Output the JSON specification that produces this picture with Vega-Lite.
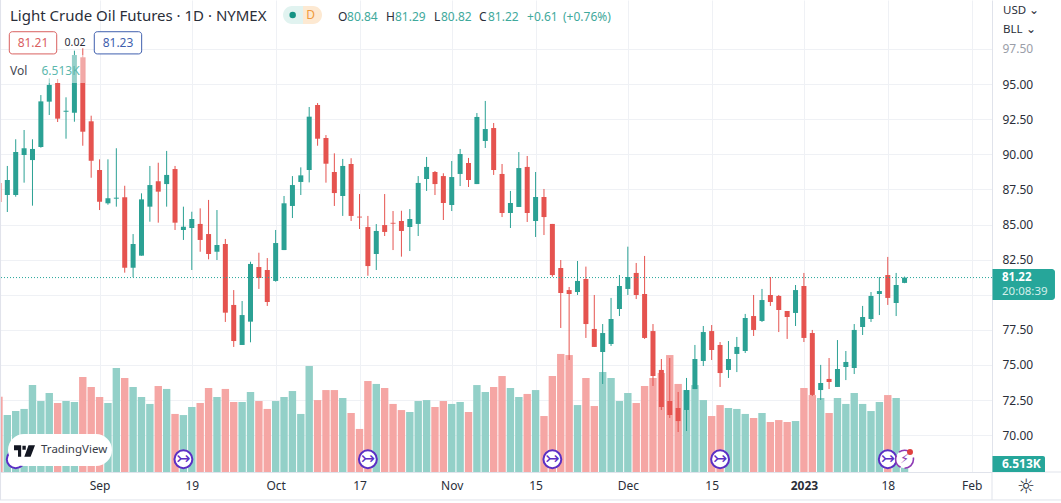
{
  "$schema": "https://vega.github.io/schema/vega-lite/v6.json",
  "width": 992,
  "height": 472,
  "autosize": "none",
  "padding": {"left": 0, "top": 0, "right": 69, "bottom": 31},
  "background": "#ffffff",
  "title": {"text": "Light Crude Oil Futures · 1D · NYMEX", "anchor": "start", "frame": "group", "offset": -24, "dx": 10, "fontSize": 15, "fontWeight": "normal", "color": "#2a2e39"},
  "config": {"font": "Noto Sans", "view": {"stroke": null}},
  "datasets": {
    "bars": [
      {"i":-1,"o":87.96,"h":87.96,"l":86.60,"c":86.60,"v":54.2},
      {"i":0,"o":87.10,"h":89.17,"l":85.89,"c":88.17,"v":41.0},
      {"i":1,"o":87.10,"h":91.07,"l":86.98,"c":90.16,"v":43.9},
      {"i":2,"o":89.95,"h":91.73,"l":87.98,"c":90.43,"v":45.4},
      {"i":3,"o":89.59,"h":91.07,"l":86.34,"c":90.38,"v":62.6},
      {"i":4,"o":90.52,"h":94.22,"l":90.47,"c":93.77,"v":51.1},
      {"i":5,"o":93.75,"h":95.41,"l":92.80,"c":94.94,"v":56.9},
      {"i":6,"o":95.08,"h":95.36,"l":92.30,"c":92.54,"v":49.7},
      {"i":7,"o":93.03,"h":94.06,"l":91.11,"c":93.10,"v":51.1},
      {"i":8,"o":92.96,"h":97.38,"l":92.32,"c":97.07,"v":50.4},
      {"i":9,"o":96.91,"h":97.55,"l":90.61,"c":91.61,"v":68.4},
      {"i":10,"o":92.35,"h":92.75,"l":88.33,"c":89.54,"v":61.2},
      {"i":11,"o":88.88,"h":89.64,"l":86.03,"c":86.62,"v":54.0},
      {"i":12,"o":86.51,"h":89.64,"l":86.41,"c":86.87,"v":49.7},
      {"i":13,"o":86.84,"h":90.43,"l":86.27,"c":86.91,"v":74.9},
      {"i":14,"o":86.94,"h":87.76,"l":81.57,"c":81.92,"v":67.7},
      {"i":15,"o":81.92,"h":84.32,"l":81.24,"c":83.61,"v":61.2},
      {"i":16,"o":82.78,"h":87.22,"l":82.78,"c":86.79,"v":54.0},
      {"i":17,"o":86.27,"h":89.17,"l":85.20,"c":87.81,"v":49.0},
      {"i":18,"o":88.08,"h":89.40,"l":85.13,"c":87.34,"v":61.9},
      {"i":19,"o":87.88,"h":90.24,"l":86.27,"c":88.53,"v":59.8},
      {"i":20,"o":88.95,"h":89.17,"l":84.61,"c":85.13,"v":41.8},
      {"i":21,"o":84.61,"h":86.27,"l":83.90,"c":84.84,"v":41.0},
      {"i":22,"o":84.75,"h":85.91,"l":81.76,"c":85.39,"v":46.8},
      {"i":23,"o":85.04,"h":86.15,"l":83.06,"c":83.90,"v":49.7},
      {"i":24,"o":84.32,"h":86.75,"l":82.52,"c":82.90,"v":60.5},
      {"i":25,"o":83.06,"h":86.03,"l":82.47,"c":83.54,"v":54.0},
      {"i":26,"o":83.61,"h":83.97,"l":78.06,"c":78.72,"v":59.8},
      {"i":27,"o":79.27,"h":80.33,"l":76.28,"c":76.70,"v":50.4},
      {"i":28,"o":76.42,"h":79.55,"l":76.42,"c":78.55,"v":50.4},
      {"i":29,"o":78.08,"h":82.35,"l":76.61,"c":82.19,"v":57.6},
      {"i":30,"o":81.97,"h":82.99,"l":80.41,"c":81.19,"v":51.1},
      {"i":31,"o":81.76,"h":82.61,"l":79.20,"c":79.48,"v":45.4},
      {"i":32,"o":80.98,"h":84.61,"l":80.93,"c":83.68,"v":51.1},
      {"i":33,"o":83.18,"h":87.03,"l":83.18,"c":86.51,"v":54.0},
      {"i":34,"o":86.32,"h":88.45,"l":85.46,"c":87.81,"v":58.3},
      {"i":35,"o":88.03,"h":89.07,"l":87.10,"c":88.50,"v":41.8},
      {"i":36,"o":88.88,"h":93.37,"l":88.00,"c":92.68,"v":76.3},
      {"i":37,"o":93.51,"h":93.65,"l":90.61,"c":91.11,"v":51.8},
      {"i":38,"o":91.16,"h":91.37,"l":87.98,"c":89.33,"v":59.0},
      {"i":39,"o":88.74,"h":90.07,"l":86.32,"c":87.24,"v":59.0},
      {"i":40,"o":87.03,"h":89.67,"l":85.61,"c":89.17,"v":53.3},
      {"i":41,"o":89.31,"h":89.72,"l":85.25,"c":85.61,"v":42.5},
      {"i":42,"o":85.56,"h":87.17,"l":84.68,"c":85.50,"v":31.0},
      {"i":43,"o":84.82,"h":85.61,"l":81.35,"c":82.04,"v":65.5},
      {"i":44,"o":82.90,"h":85.03,"l":81.76,"c":84.54,"v":63.4},
      {"i":45,"o":84.96,"h":87.17,"l":84.18,"c":84.47,"v":60.5},
      {"i":46,"o":85.12,"h":85.96,"l":83.18,"c":85.06,"v":49.0},
      {"i":47,"o":85.25,"h":85.98,"l":82.71,"c":84.54,"v":44.6},
      {"i":48,"o":84.82,"h":86.10,"l":83.11,"c":85.39,"v":43.2},
      {"i":49,"o":85.04,"h":88.45,"l":84.18,"c":87.96,"v":51.1},
      {"i":50,"o":88.24,"h":89.81,"l":87.39,"c":89.10,"v":51.8},
      {"i":51,"o":88.74,"h":88.81,"l":87.10,"c":87.88,"v":46.8},
      {"i":52,"o":88.45,"h":88.65,"l":85.32,"c":86.53,"v":51.1},
      {"i":53,"o":86.39,"h":89.52,"l":85.96,"c":88.38,"v":49.0},
      {"i":54,"o":88.60,"h":90.38,"l":87.74,"c":90.02,"v":50.4},
      {"i":55,"o":89.38,"h":89.74,"l":87.67,"c":88.17,"v":43.2},
      {"i":56,"o":87.88,"h":92.94,"l":87.88,"c":92.66,"v":62.6},
      {"i":57,"o":90.95,"h":93.80,"l":90.45,"c":91.80,"v":57.6},
      {"i":58,"o":91.87,"h":92.23,"l":88.53,"c":88.88,"v":61.2},
      {"i":59,"o":88.60,"h":89.31,"l":85.53,"c":85.82,"v":69.1},
      {"i":60,"o":85.82,"h":87.39,"l":84.75,"c":86.53,"v":60.5},
      {"i":61,"o":86.25,"h":90.16,"l":86.25,"c":89.02,"v":54.0},
      {"i":62,"o":89.10,"h":89.88,"l":85.18,"c":85.82,"v":56.2},
      {"i":63,"o":85.25,"h":88.74,"l":84.11,"c":86.96,"v":59.0},
      {"i":64,"o":86.96,"h":87.53,"l":84.25,"c":85.53,"v":40.3},
      {"i":65,"o":85.04,"h":85.04,"l":81.28,"c":81.40,"v":69.1},
      {"i":66,"o":81.90,"h":82.47,"l":77.63,"c":80.12,"v":85.0},
      {"i":67,"o":80.33,"h":80.55,"l":75.35,"c":80.05,"v":84.2},
      {"i":68,"o":80.19,"h":82.40,"l":79.98,"c":80.98,"v":48.2},
      {"i":69,"o":81.12,"h":82.00,"l":76.92,"c":77.91,"v":67.7},
      {"i":70,"o":77.56,"h":79.98,"l":76.28,"c":76.28,"v":47.5},
      {"i":71,"o":75.92,"h":77.91,"l":73.64,"c":77.27,"v":72.0},
      {"i":72,"o":76.49,"h":79.77,"l":76.35,"c":78.27,"v":67.7},
      {"i":73,"o":78.98,"h":81.40,"l":78.48,"c":80.62,"v":51.1},
      {"i":74,"o":80.41,"h":83.42,"l":79.98,"c":81.26,"v":56.9},
      {"i":75,"o":81.55,"h":82.26,"l":79.69,"c":79.98,"v":49.7},
      {"i":76,"o":80.05,"h":82.76,"l":76.85,"c":76.92,"v":61.9},
      {"i":77,"o":77.41,"h":77.91,"l":73.50,"c":74.21,"v":67.7},
      {"i":78,"o":74.64,"h":75.42,"l":71.79,"c":72.00,"v":71.3},
      {"i":79,"o":72.43,"h":75.49,"l":71.22,"c":71.43,"v":84.2},
      {"i":80,"o":71.93,"h":73.07,"l":70.22,"c":71.00,"v":63.4},
      {"i":81,"o":71.79,"h":74.07,"l":70.29,"c":73.21,"v":59.0},
      {"i":82,"o":73.28,"h":76.42,"l":73.28,"c":75.42,"v":62.6},
      {"i":83,"o":75.28,"h":77.77,"l":74.92,"c":77.34,"v":51.8},
      {"i":84,"o":77.41,"h":77.84,"l":75.35,"c":76.06,"v":40.3},
      {"i":85,"o":76.42,"h":76.63,"l":73.43,"c":74.42,"v":48.2},
      {"i":86,"o":74.64,"h":76.70,"l":74.07,"c":75.42,"v":46.1},
      {"i":87,"o":75.78,"h":76.99,"l":74.49,"c":76.28,"v":45.4},
      {"i":88,"o":75.99,"h":78.63,"l":75.85,"c":78.34,"v":41.8},
      {"i":89,"o":78.48,"h":79.98,"l":77.06,"c":77.49,"v":38.9},
      {"i":90,"o":78.13,"h":80.41,"l":78.06,"c":79.62,"v":42.5},
      {"i":91,"o":79.98,"h":81.26,"l":79.20,"c":79.48,"v":36.0},
      {"i":92,"o":79.91,"h":79.98,"l":77.34,"c":78.91,"v":37.4},
      {"i":93,"o":78.84,"h":78.84,"l":76.85,"c":78.41,"v":36.0},
      {"i":94,"o":78.70,"h":80.69,"l":77.77,"c":80.33,"v":36.7},
      {"i":95,"o":80.62,"h":81.55,"l":76.63,"c":76.92,"v":60.5},
      {"i":96,"o":77.27,"h":77.49,"l":72.78,"c":72.86,"v":55.4},
      {"i":97,"o":73.21,"h":75.00,"l":72.50,"c":73.71,"v":53.3},
      {"i":98,"o":74.00,"h":75.49,"l":73.28,"c":73.78,"v":42.5},
      {"i":99,"o":73.43,"h":76.77,"l":73.43,"c":74.71,"v":53.3},
      {"i":100,"o":74.85,"h":75.99,"l":73.92,"c":75.21,"v":49.0},
      {"i":101,"o":74.78,"h":77.91,"l":74.35,"c":77.49,"v":56.9},
      {"i":102,"o":77.70,"h":79.20,"l":77.13,"c":78.41,"v":49.0},
      {"i":103,"o":78.27,"h":80.19,"l":78.06,"c":79.91,"v":43.9},
      {"i":104,"o":80.05,"h":81.26,"l":78.55,"c":80.26,"v":50.4},
      {"i":105,"o":81.40,"h":82.69,"l":79.27,"c":79.77,"v":55.4},
      {"i":106,"o":79.41,"h":81.55,"l":78.48,"c":80.69,"v":53.3},
      {"i":107,"o":80.84,"h":81.29,"l":80.82,"c":81.22,"v":6.513}
    ]
  },
  "resolve": {"scale": {"y": "independent"}},
  "layer": [
    {
      "data": {"name": "bars"},
      "mark": {"type": "bar", "orient": "vertical", "size": 7.4},
      "encoding": {
        "x": {
          "field": "i", "type": "quantitative",
          "scale": {"domain": [-0.874, 117.43], "nice": false, "zero": false, "padding": 0},
          "axis": {
            "title": null,
            "values": [11, 22, 32, 42, 53, 63, 74, 84, 95, 105, 115],
            "labelExpr": "{'11':'Sep','22':'19','32':'Oct','42':'17','53':'Nov','63':'15','74':'Dec','84':'15','95':'2023','105':'18','115':'Feb'}[datum.value]",
            "labelFontSize": 12,
            "labelColor": "#2a2e39",
            "labelPadding": 8,
            "labelFontWeight": {"condition": {"test": "datum.value === 95", "value": "bold"}, "value": "normal"},
            "ticks": false,
            "domainColor": "#e0e3eb",
            "grid": true,
            "gridColor": "#eff1f5"
          }
        },
        "y": {"field": "v", "type": "quantitative", "scale": {"domain": [0, 339.84], "nice": false}, "axis": null},
        "color": {"condition": {"test": "datum.c >= datum.o", "value": "#93d0c8"}, "value": "#f5a6a4"}
      }
    },
    {
      "data": {"values": [{}]},
      "layer": [
        {
          "data": {"name": "bars"},
          "mark": {"type": "rule", "strokeWidth": 1},
          "encoding": {
            "x": {"field": "i", "type": "quantitative"},
            "y": {
              "field": "h", "type": "quantitative",
              "scale": {"domain": [67.372, 100.99], "nice": false, "zero": false},
              "axis": {
                "title": null,
                "orient": "right",
                "values": [70, 72.5, 75, 77.5, 80, 82.5, 85, 87.5, 90, 92.5, 95, 97.5],
                "labelExpr": "datum.value === 80 ? '' : format(datum.value, '.2f')",
                "labelFontSize": 12,
                "labelColor": {"condition": {"test": "datum.value === 97.5", "value": "#9a9ea8"}, "value": "#2a2e39"},
                "labelPadding": 10,
                "ticks": false,
                "domainColor": "#e0e3eb",
                "grid": true,
                "gridColor": "#eff1f5"
              }
            },
            "y2": {"field": "l"},
            "color": {"condition": {"test": "datum.c >= datum.o", "value": "#2ba194"}, "value": "#e5534f"}
          }
        },
        {
          "data": {"name": "bars"},
          "mark": {"type": "bar", "orient": "vertical", "size": 5},
          "encoding": {
            "x": {"field": "i", "type": "quantitative"},
            "y": {"field": "o", "type": "quantitative"},
            "y2": {"field": "c"},
            "color": {"condition": {"test": "datum.c >= datum.o", "value": "#2ba194"}, "value": "#e5534f"}
          }
        },
        {
          "mark": {"type": "rule", "strokeDash": [1, 2], "stroke": "#26a69a", "strokeWidth": 1},
          "encoding": {"y": {"datum": 81.22}}
        },
        {
          "mark": {"type": "rect", "color": "#ffffff", "opacity": 0.5},
          "encoding": {"x": {"datum": -0.874}, "x2": {"datum": 9.26}, "y": {"datum": 97.07}, "y2": {"datum": 95.08}}
        },
        {
          "data": {"values": [{"i": 1}, {"i": 21}, {"i": 43}, {"i": 65}, {"i": 85}, {"i": 105}]},
          "mark": {"type": "point", "filled": true, "size": 320, "fill": "#ffffff", "stroke": "#5b2fc4", "strokeWidth": 2, "opacity": 1},
          "encoding": {"x": {"field": "i", "type": "quantitative"}, "y": {"datum": 68.28}}
        },
        {
          "data": {"values": [{"i": 21}, {"i": 43}, {"i": 65}, {"i": 85}, {"i": 105}]},
          "mark": {"type": "text", "text": "↣", "font": "DejaVu Sans", "fontSize": 17, "baseline": "middle", "color": "#5b2fc4"},
          "encoding": {"x": {"field": "i", "type": "quantitative"}, "y": {"datum": 68.28}}
        },
        {
          "mark": {"type": "point", "filled": true, "size": 320, "fill": "#ffffff", "stroke": "#8e3bb5", "strokeWidth": 1.6, "strokeDash": [14, 4], "opacity": 1},
          "encoding": {"x": {"datum": 107}, "y": {"datum": 68.28}}
        },
        {
          "mark": {"type": "text", "text": "⚡", "font": "DejaVu Sans", "fontSize": 13, "baseline": "middle", "color": "#8e3bb5"},
          "encoding": {"x": {"datum": 107}, "y": {"datum": 68.28}}
        },
        {
          "mark": {"type": "point", "filled": true, "size": 36, "color": "#e0403f", "opacity": 1},
          "encoding": {"x": {"datum": 107.65}, "y": {"datum": 68.8}}
        },
        {
          "mark": {"type": "rect", "color": "#ffffff", "cornerRadius": 16},
          "encoding": {"x": {"datum": 0.08}, "x2": {"datum": 12.48}, "y": {"datum": 70.08}, "y2": {"datum": 67.8}}
        },
        {
          "mark": {"type": "point", "filled": true, "size": 441, "color": "#131722", "opacity": 1, "shape": "M-1,-0.55 L-0.32,-0.55 L-0.32,0.55 L-0.62,0.55 L-0.62,-0.08 L-1,-0.08 Z M-0.2,-0.5 L0.12,-0.5 L0.12,-0.12 L-0.2,-0.12 Z M0.38,-0.55 L1,-0.55 L0.58,0.55 L-0.02,0.55 Z"},
          "encoding": {"x": {"datum": 2.05}, "y": {"datum": 68.87}}
        },
        {
          "mark": {"type": "text", "text": "TradingView", "align": "left", "baseline": "middle", "fontSize": 11.5, "color": "#3a3e49"},
          "encoding": {"x": {"datum": 4.02}, "y": {"datum": 68.94}}
        },
        {
          "mark": {"type": "rect", "fill": "#e1f3f0", "cornerRadiusTopLeft": 9, "cornerRadiusBottomLeft": 9},
          "encoding": {"x": {"datum": 32.88}, "x2": {"datum": 35.26}, "y": {"datum": 100.56}, "y2": {"datum": 99.28}}
        },
        {
          "mark": {"type": "rect", "fill": "#fde9d2", "cornerRadiusTopRight": 9, "cornerRadiusBottomRight": 9},
          "encoding": {"x": {"datum": 35.26}, "x2": {"datum": 37.53}, "y": {"datum": 100.56}, "y2": {"datum": 99.28}}
        },
        {
          "mark": {"type": "point", "filled": true, "size": 42, "color": "#149384", "opacity": 1},
          "encoding": {"x": {"datum": 34.03}, "y": {"datum": 99.92}}
        },
        {
          "mark": {"type": "text", "text": "D", "fontSize": 12, "baseline": "middle", "color": "#ef9a3c"},
          "encoding": {"x": {"datum": 36.18}, "y": {"datum": 99.92}}
        },
        {
          "data": {"values": [{"i": 39.44, "label": "O"}, {"i": 45.16, "label": "H"}, {"i": 50.88, "label": "L"}, {"i": 56.25, "label": "C"}]},
          "mark": {"type": "text", "align": "left", "baseline": "middle", "fontSize": 12, "color": "#2a2e39"},
          "encoding": {"x": {"field": "i", "type": "quantitative"}, "y": {"datum": 99.78}, "text": {"field": "label"}}
        },
        {
          "data": {"values": [{"i": 40.51, "label": "80.84"}, {"i": 46.23, "label": "81.29"}, {"i": 51.72, "label": "80.82"}, {"i": 57.32, "label": "81.22"}, {"i": 61.98, "label": "+0.61"}, {"i": 66.27, "label": "(+0.76%)"}]},
          "mark": {"type": "text", "align": "left", "baseline": "middle", "fontSize": 12, "color": "#3fa99c"},
          "encoding": {"x": {"field": "i", "type": "quantitative"}, "y": {"datum": 99.78}, "text": {"field": "label"}}
        },
        {
          "mark": {"type": "rect", "fill": "#ffffff", "stroke": "#d9605f", "cornerRadius": 3},
          "encoding": {"x": {"datum": 0.235}, "x2": {"datum": 5.89}, "y": {"datum": 98.73}, "y2": {"datum": 97.15}}
        },
        {
          "mark": {"type": "rect", "fill": "#ffffff", "stroke": "#3f5fae", "cornerRadius": 3},
          "encoding": {"x": {"datum": 10.37}, "x2": {"datum": 16.02}, "y": {"datum": 98.73}, "y2": {"datum": 97.15}}
        },
        {
          "mark": {"type": "text", "text": "81.21", "fontSize": 12, "baseline": "middle", "color": "#d9605f"},
          "encoding": {"x": {"datum": 3.06}, "y": {"datum": 97.93}}
        },
        {
          "mark": {"type": "text", "text": "0.02", "fontSize": 10.5, "baseline": "middle", "color": "#2a2e39"},
          "encoding": {"x": {"datum": 8.07}, "y": {"datum": 97.93}}
        },
        {
          "mark": {"type": "text", "text": "81.23", "fontSize": 12, "baseline": "middle", "color": "#3f5fae"},
          "encoding": {"x": {"datum": 13.2}, "y": {"datum": 97.93}}
        },
        {
          "mark": {"type": "text", "text": "Vol", "align": "left", "baseline": "middle", "fontSize": 12, "color": "#444853"},
          "encoding": {"x": {"datum": 0.32}, "y": {"datum": 95.93}}
        },
        {
          "mark": {"type": "text", "text": "6.513K", "align": "left", "baseline": "middle", "fontSize": 12, "color": "#5cb8ad"},
          "encoding": {"x": {"datum": 4.07}, "y": {"datum": 95.93}}
        },
        {
          "mark": {"type": "rule", "color": "#e0e3eb"},
          "encoding": {"x": {"datum": -0.81}, "y": {"datum": 100.99}, "y2": {"datum": 65.38}}
        },
        {
          "mark": {"type": "rule", "color": "#e0e3eb"},
          "encoding": {"x": {"datum": 117.43}, "y": {"datum": 67.372}, "y2": {"datum": 65.38}}
        },
        {
          "mark": {"type": "rule", "color": "#e0e3eb"},
          "encoding": {"x": {"datum": 117.43}, "x2": {"datum": 125.66}, "y": {"datum": 67.372}}
        },
        {
          "mark": {"type": "rule", "color": "#e0e3eb"},
          "encoding": {"x": {"datum": -0.874}, "x2": {"datum": 125.66}, "y": {"datum": 65.38}}
        },
        {
          "mark": {"type": "rect", "fill": "#26a69a", "cornerRadiusTopRight": 3, "cornerRadiusBottomRight": 3},
          "encoding": {"x": {"datum": 117.49}, "x2": {"datum": 124.94}, "y": {"datum": 81.83}, "y2": {"datum": 79.62}}
        },
        {
          "mark": {"type": "rect", "fill": "#26a69a", "cornerRadiusTopRight": 2},
          "encoding": {"x": {"datum": 117.49}, "x2": {"datum": 123.75}, "y": {"datum": 68.51}, "y2": {"datum": 67.37}}
        },
        {
          "mark": {"type": "text", "text": "81.22", "align": "left", "baseline": "middle", "fontSize": 11.5, "fontWeight": "bold", "color": "#ffffff"},
          "encoding": {"x": {"datum": 118.62}, "y": {"datum": 81.22}}
        },
        {
          "mark": {"type": "text", "text": "20:08:39", "align": "left", "baseline": "middle", "fontSize": 11.5, "color": "#d4efeb"},
          "encoding": {"x": {"datum": 118.62}, "y": {"datum": 80.17}}
        },
        {
          "mark": {"type": "text", "text": "6.513K", "align": "left", "baseline": "middle", "fontSize": 12, "fontWeight": "bold", "color": "#ffffff"},
          "encoding": {"x": {"datum": 118.62}, "y": {"datum": 67.94}}
        },
        {
          "mark": {"type": "text", "text": "USD ⌄", "align": "left", "baseline": "middle", "fontSize": 11.5, "color": "#2a2e39"},
          "encoding": {"x": {"datum": 118.74}, "y": {"datum": 100.21}}
        },
        {
          "mark": {"type": "text", "text": "BLL ⌄", "align": "left", "baseline": "middle", "fontSize": 11.5, "color": "#2a2e39"},
          "encoding": {"x": {"datum": 118.74}, "y": {"datum": 98.85}}
        },
        {
          "mark": {"type": "text", "text": "☼", "font": "DejaVu Sans", "fontSize": 20, "baseline": "middle", "color": "#2a2e39"},
          "encoding": {"x": {"datum": 121.48}, "y": {"datum": 66.3}}
        }
      ]
    }
  ]
}
